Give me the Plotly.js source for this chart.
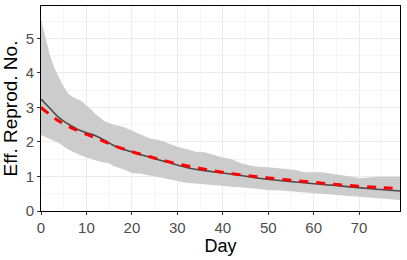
<!DOCTYPE html>
<html>
<head>
<meta charset="utf-8">
<script src="https://cdn.plot.ly/plotly-3.0.1.min.js"></script>
<style>
  body { margin: 0; background: #fff; }
  #chart { width: 407px; height: 260px; }
</style>
</head>
<body>
<div id="chart"></div>
<script>
// gray band (interval)
const bandDays = [0, 1, 2, 3, 4, 5, 6, 7, 8, 9, 10, 11, 12, 13, 14, 15, 16, 18, 20, 22, 24, 26, 28, 30,
    32, 34, 36, 38, 40, 42, 44, 46, 48, 50, 52, 54, 56, 58, 60, 62, 64, 66, 68, 70, 72, 74, 76, 79];
const bandUpper = [5.55, 5.0, 4.5, 4.12, 3.85, 3.6, 3.4, 3.3, 3.24, 3.18, 3.06, 2.95, 2.8, 2.7, 2.6, 2.55, 2.5, 2.44, 2.32, 2.2, 2.1, 2.06, 1.96, 1.86,
    1.8, 1.72, 1.7, 1.62, 1.55, 1.5, 1.38, 1.32, 1.28, 1.27, 1.24, 1.2, 1.19, 1.12, 1.13, 1.12, 1.08, 1.05, 1.0, 0.95, 0.98, 0.99, 0.99, 0.99];
const bandLower = [2.2, 2.15, 2.1, 2.03, 1.96, 1.87, 1.78, 1.72, 1.65, 1.6, 1.55, 1.52, 1.47, 1.43, 1.4, 1.38, 1.3, 1.22, 1.1, 1.08, 1.03, 0.98, 0.92, 0.88,
    0.82, 0.8, 0.77, 0.75, 0.72, 0.7, 0.69, 0.66, 0.63, 0.61, 0.6, 0.58, 0.56, 0.54, 0.52, 0.5, 0.48, 0.46, 0.43, 0.41, 0.39, 0.37, 0.35, 0.32];

// median estimate (dark line)
const medDays = [0, 2, 4, 6, 8, 10, 12, 14, 16, 18, 20, 22, 24, 26, 28, 30, 33, 36, 40, 44, 48, 52, 56, 60, 64, 68, 72, 76, 79];
const medValues = [3.24, 2.97, 2.7, 2.52, 2.37, 2.27, 2.18, 2.05, 1.9, 1.79, 1.71, 1.63, 1.56, 1.48, 1.41, 1.33, 1.23, 1.17, 1.1, 1.03,
    0.95, 0.89, 0.84, 0.79, 0.75, 0.7, 0.65, 0.61, 0.58];

// fitted curve (red dashed)
const fitDays = [0, 4, 8, 12, 16, 20, 24, 28, 32, 36, 40, 45, 50, 55, 60, 65, 70, 75, 79];
const fitValues = [3.0, 2.6, 2.33, 2.12, 1.9, 1.72, 1.57, 1.43, 1.31, 1.21, 1.12, 1.03, 0.96, 0.89, 0.83, 0.77, 0.72, 0.68, 0.65];

const xTicks = [0, 10, 20, 30, 40, 50, 60, 70];
const yTicks = [0, 1, 2, 3, 4, 5];

const traces = [
    { x: bandDays, y: bandLower, mode: "lines", line: { width: 0 }, hoverinfo: "skip", showlegend: false },
    { x: bandDays, y: bandUpper, mode: "lines", line: { width: 0 }, fill: "tonexty", fillcolor: "#cccccc", hoverinfo: "skip", showlegend: false },
    { x: medDays, y: medValues, mode: "lines", line: { color: "#4a4a4a", width: 1.6, shape: "spline" }, showlegend: false },
    { x: fitDays, y: fitValues, mode: "lines", line: { color: "#ff0000", width: 3, dash: "9px,8px", shape: "spline" }, showlegend: false }
];

const axisFont = { family: "Liberation Sans, Arial, sans-serif", size: 15, color: "#4d4d4d" };
const xTitleFont = { family: "Liberation Sans, Arial, sans-serif", size: 18, color: "#000" };
const yTitleFont = { family: "Liberation Sans, Arial, sans-serif", size: 19, color: "#000" };

const layout = {
    width: 407,
    height: 260,
    margin: { l: 41, r: 7, t: 6, b: 49 },
    paper_bgcolor: "#fff",
    plot_bgcolor: "#fff",
    xaxis: {
        range: [0, 79],
        tickvals: xTicks,
        ticks: "outside", ticklen: 3, tickcolor: "#333",
        tickfont: axisFont,
        showline: true, linecolor: "#000", linewidth: 1, mirror: true,
        gridcolor: "#ebebeb", gridwidth: 1,
        minor: { dtick: 5, showgrid: true, gridcolor: "#f2f2f2", gridwidth: 0.8 },
        zeroline: false,
        title: { text: "Day", font: xTitleFont, standoff: 2 }
    },
    yaxis: {
        range: [0, 5.94],
        tickvals: yTicks,
        ticks: "outside", ticklen: 3, tickcolor: "#333",
        tickfont: axisFont,
        showline: true, linecolor: "#000", linewidth: 1, mirror: true,
        gridcolor: "#ebebeb", gridwidth: 1,
        minor: { dtick: 0.5, showgrid: true, gridcolor: "#f2f2f2", gridwidth: 0.8 },
        zeroline: false,
        title: { text: "Eff. Reprod. No.", font: yTitleFont, standoff: 3 }
    }
};

Plotly.newPlot("chart", traces, layout, { displayModeBar: false, staticPlot: true });
</script>
</body>
</html>
